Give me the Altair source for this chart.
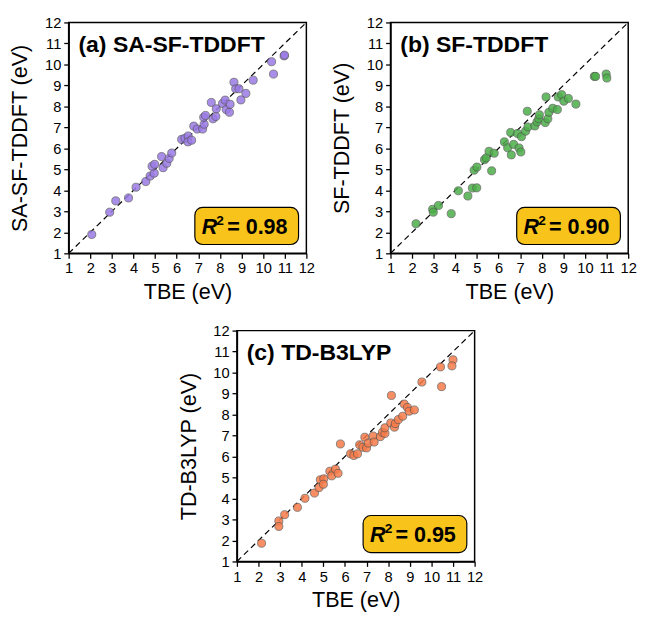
import altair as alt
import pandas as pd

# ---------------- data ----------------
tbe_a = [2.07, 2.90, 3.18, 3.77, 4.12, 4.57, 4.77, 4.96, 4.86, 4.98, 5.37, 5.30, 5.54, 5.65, 5.77,
         6.23, 6.38, 6.53, 6.52, 6.69, 6.79, 6.95, 7.20, 7.27, 7.25, 7.33, 7.68, 7.81, 7.60, 7.83,
         8.12, 8.24, 8.29, 8.44, 8.47, 8.65, 8.73, 8.88, 8.97, 9.20, 9.54, 10.39, 10.48, 10.97, 10.99]
sasf = [1.90, 2.96, 3.50, 3.64, 4.15, 4.42, 4.68, 4.82, 5.15, 5.24, 5.08, 5.61, 5.29, 5.52, 5.78,
        6.43, 6.48, 6.59, 6.31, 6.39, 7.06, 6.92, 6.92, 7.15, 7.48, 7.57, 7.41, 7.52, 8.19, 7.89,
        8.14, 8.30, 7.85, 7.72, 8.10, 9.15, 8.84, 8.84, 8.31, 8.62, 9.25, 10.13, 9.54, 10.41, 10.44]

tbe_b = [2.18, 2.95, 2.98, 3.22, 3.81, 4.14, 4.58, 4.79, 4.99, 4.87, 5.00, 5.35, 5.43, 5.56, 5.80,
         5.68, 6.27, 6.42, 6.59, 6.56, 6.70, 6.88, 6.95, 7.03, 7.06, 7.25, 7.36, 7.33, 7.68, 7.78,
         7.86, 7.89, 8.16, 8.28, 8.33, 8.20, 8.51, 8.72, 8.76, 8.92, 9.02, 9.23, 9.58, 10.43, 10.49,
         10.98, 11.01]
sf = [2.41, 3.10, 2.96, 3.28, 2.89, 3.98, 3.73, 4.11, 4.12, 4.96, 5.11, 5.46, 5.55, 5.86, 5.77,
      4.93, 6.31, 6.03, 5.69, 6.76, 6.19, 6.71, 6.02, 5.83, 6.56, 6.82, 7.02, 7.77, 7.07, 7.26,
      7.41, 7.60, 7.23, 7.41, 7.72, 8.45, 7.91, 7.85, 8.45, 8.56, 8.25, 8.38, 8.11, 9.43, 9.43,
      9.54, 9.35]

tbe_c = [2.14, 2.94, 2.94, 3.21, 3.80, 4.15, 4.59, 4.80, 4.86, 5.02, 5.00, 5.30, 5.39, 5.56, 5.68,
         5.79, 6.26, 6.41, 6.58, 6.68, 6.83, 6.92, 7.00, 7.08, 7.30, 7.35, 7.64, 7.73, 7.85, 7.85,
         8.15, 8.12, 8.29, 8.33, 8.47, 8.67, 8.74, 8.89, 8.97, 9.21, 9.56, 10.42, 10.47, 11.00, 10.95]
b3lyp = [1.87, 2.93, 2.67, 3.23, 3.58, 4.01, 4.26, 4.52, 4.89, 4.94, 4.68, 5.30, 5.08, 5.40, 5.20,
         6.60, 6.13, 6.05, 6.13, 6.56, 6.44, 6.92, 6.41, 6.64, 6.98, 6.69, 6.95, 7.15, 7.10, 7.37,
         8.91, 7.60, 7.40, 7.57, 7.76, 7.92, 8.50, 8.34, 8.16, 8.22, 9.55, 10.27, 9.33, 10.61, 10.32]

tick_values = list(range(1, 13))
diag = [1, 12]

panel_titles = ["(a) SA-SF-TDDFT", "(b) SF-TDDFT", "(c) TD-B3LYP"]
y_titles = ["SA-SF-TDDFT (eV)", "SF-TDDFT (eV)", "TD-B3LYP (eV)"]
r2_values = ["0.98", "0.90", "0.95"]
colors = ["#9b7be6", "#4daf4a", "#f77b48"]

FONT = "Liberation Sans"
W, H = 243, 236
BOX_FILL = "#f8c41b"


def panel(x, y, color, ytitle, ptitle, r2):
    df = pd.DataFrame({"TBE": x, "Calc": y})
    xs = alt.Scale(domain=[1, 12], nice=False, zero=False)
    ys = alt.Scale(domain=[1, 12], nice=False, zero=False)
    xax = alt.Axis(values=tick_values, title="TBE (eV)", grid=False, labelFlush=False,
                   labelOverlap=False, format="d", titlePadding=6)
    yax = alt.Axis(values=tick_values, title=ytitle, grid=False, labelFlush=False,
                   labelOverlap=False, format="d", titlePadding=13)
    line = alt.Chart(pd.DataFrame({"TBE": diag, "Calc": diag})).mark_line(
        color="black", strokeDash=[6, 4], strokeWidth=1.2, clip=True
    ).encode(x=alt.X("TBE:Q", scale=xs, axis=xax), y=alt.Y("Calc:Q", scale=ys, axis=yax))
    pts = alt.Chart(df).mark_circle(
        size=68, color=color, opacity=0.85, stroke="#555555", strokeWidth=0.8
    ).encode(x=alt.X("TBE:Q", scale=xs, axis=xax), y=alt.Y("Calc:Q", scale=ys, axis=yax))
    one = pd.DataFrame({"a": [0]})
    title_txt = alt.Chart(one).mark_text(
        align="left", baseline="alphabetic", fontSize=23.5, fontWeight="bold", font=FONT, color="black"
    ).encode(x=alt.value(10), y=alt.value(30), text=alt.value(ptitle))
    box = alt.Chart(one).mark_rect(
        fill=BOX_FILL, stroke="black", strokeWidth=1.2, cornerRadius=8
    ).encode(x=alt.value(129), x2=alt.value(235), y=alt.value(189), y2=alt.value(227))
    r_txt = alt.Chart(one).mark_text(
        align="left", baseline="alphabetic", fontSize=22, fontWeight="bold", fontStyle="italic",
        font=FONT, color="black"
    ).encode(x=alt.value(136), y=alt.value(216), text=alt.value("R"))
    sup_txt = alt.Chart(one).mark_text(
        align="left", baseline="alphabetic", fontSize=14, fontWeight="bold", font=FONT, color="black"
    ).encode(x=alt.value(151), y=alt.value(207), text=alt.value("2"))
    val_txt = alt.Chart(one).mark_text(
        align="left", baseline="alphabetic", fontSize=22, fontWeight="bold", font=FONT, color="black"
    ).encode(x=alt.value(162), y=alt.value(216), text=alt.value("= " + r2))
    return alt.layer(line, pts, box, title_txt, r_txt, sup_txt, val_txt).properties(
        width=W, height=H, view=alt.ViewBackground(stroke="black", strokeWidth=1.5)
    )


pa = panel(tbe_a, sasf, colors[0], y_titles[0], panel_titles[0], r2_values[0])
pb = panel(tbe_b, sf, colors[1], y_titles[1], panel_titles[1], r2_values[1])
pc = panel(tbe_c, b3lyp, colors[2], y_titles[2], panel_titles[2], r2_values[2])

spacer = alt.Chart(pd.DataFrame({"a": [0]})).mark_point(opacity=0).encode(
    x=alt.X("a:Q", axis=None), y=alt.Y("a:Q", axis=None)
).properties(width=110, height=10, view=alt.ViewBackground(stroke=None))

top = alt.hconcat(pa, pb, spacing=14)
bottom = alt.hconcat(spacer, pc, spacing=0)

chart = alt.vconcat(top, bottom, spacing=20).properties(
    padding={"left": 0, "top": 0, "right": 0, "bottom": 0}
).configure_view(stroke=None).configure_axis(
    labelFont=FONT, titleFont=FONT, labelFontSize=15, titleFontSize=22, titleFontWeight="normal",
    labelColor="black", titleColor="black", tickColor="black", domainColor="black",
    tickSize=5, tickWidth=1.3, domainWidth=1.5, labelPadding=3
)

chart.save("out.html", embed_options={"renderer": "svg", "actions": False})
